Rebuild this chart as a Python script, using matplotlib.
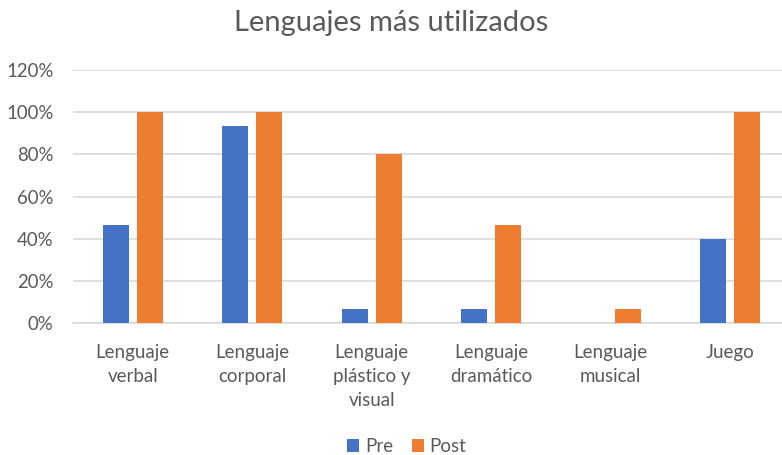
import matplotlib
matplotlib.use("Agg")
import matplotlib.pyplot as plt
import numpy as np
from matplotlib.ticker import PercentFormatter

# chart data
categories = ["Lenguaje\nverbal", "Lenguaje\ncorporal", "Lenguaje\nplástico y\nvisual",
              "Lenguaje\ndramático", "Lenguaje\nmusical", "Juego"]
pre = [46.7, 93.3, 6.7, 6.7, 0.0, 40.0]
post = [100.0, 100.0, 80.0, 46.7, 6.7, 100.0]
series_names = ["Pre", "Post"]

plt.rcParams["font.family"] = ["Lato", "DejaVu Sans"]
text_grey = "#595959"

fig = plt.figure(figsize=(7.82, 4.55), dpi=100)
ax = fig.add_axes([73 / 782, 1 - 323 / 455, 717 / 782, (323 - 70) / 455])

x = np.arange(len(categories))
width = 0.218
ax.bar(x - 0.142, pre, width=width, color="#4472C4", label=series_names[0], zorder=3)
ax.bar(x + 0.142, post, width=width, color="#ED7D31", label=series_names[1], zorder=3)

ax.set_xlim(-0.5, len(categories) - 0.5)
ax.set_ylim(0, 120)
ax.set_yticks(np.arange(0, 121, 20))
ax.yaxis.set_major_formatter(PercentFormatter(decimals=0))
ax.grid(axis="y", color="#D9D9D9", linewidth=1.2, zorder=0)

ax.set_xticks(x)
ax.set_xticklabels(categories, fontsize=13.5, color=text_grey, linespacing=1.5)
ax.tick_params(axis="x", length=0, pad=15)
ax.tick_params(axis="y", length=0, labelsize=13.4, labelcolor=text_grey, pad=14)

for side in ["top", "right", "left"]:
  ax.spines[side].set_visible(False)
ax.spines["bottom"].set_color("#D9D9D9")
ax.spines["bottom"].set_linewidth(1.2)

fig.suptitle("Lenguajes más utilizados", fontsize=21, color=text_grey, y=0.977)

fig.legend(loc="lower center", bbox_to_anchor=(0.52, -0.037), ncol=2, frameon=False,
           fontsize=13.5, labelcolor=text_grey, handlelength=0.65, handleheight=0.65,
           handletextpad=0.3, columnspacing=1.0)

fig.savefig("out.png", dpi=100)
